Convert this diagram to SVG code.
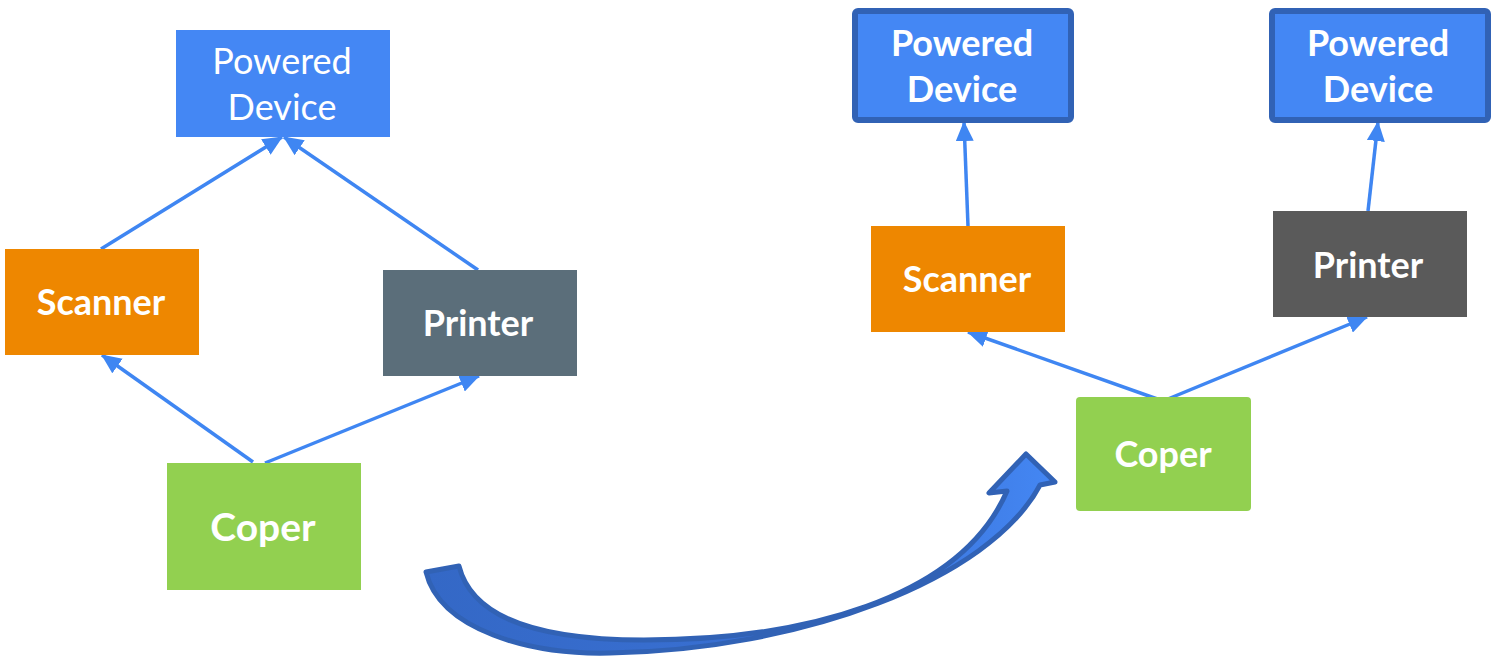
<svg xmlns="http://www.w3.org/2000/svg" width="1497" height="660" viewBox="0 0 1497 660">
<style>
.lbl{font-family:Lato,"Open Sans","Liberation Sans",sans-serif;fill:#fff;text-anchor:middle}
.b{font-weight:bold}
.edge{stroke:#3F86F2;stroke-width:3.5;fill:none;marker-end:url(#ah)}
</style>
<defs>
<marker id="ah" markerWidth="20" markerHeight="18" refX="19" refY="9" orient="auto" markerUnits="userSpaceOnUse">
<path d="M0,0 L20,9 L0,18 z" fill="#3F86F2"/>
</marker>
<linearGradient id="bg" x1="0" y1="0" x2="1" y2="0">
<stop offset="0" stop-color="#3468C6"/>
<stop offset="0.7" stop-color="#3A72D6"/>
<stop offset="1" stop-color="#4487F4"/>
</linearGradient>
</defs>
<rect width="1497" height="660" fill="#fff"/>
<g id="connectors">
<line class="edge" x1="101" y1="249" x2="282" y2="137"/>
<line class="edge" x1="478" y1="270" x2="284" y2="137"/>
<line class="edge" x1="253" y1="462" x2="102" y2="355"/>
<line class="edge" x1="265" y1="463" x2="479" y2="376"/>
<line class="edge" x1="968" y1="226" x2="964" y2="122"/>
<line class="edge" x1="1368" y1="211" x2="1378" y2="122"/>
<line class="edge" x1="1163" y1="401" x2="968" y2="332"/>
<line class="edge" x1="1163" y1="401" x2="1367" y2="317"/>
</g>
<g id="big-arrow">
<path d="M426,572 C440,630 530,655 610,653 C800,650 990,580 1040,485 L1055,482 L1026,454 L989,493 L1007,491 C960,600 800,640 644,640 C520,640 470,610 459,566 Z" fill="url(#bg)" stroke="#3162B5" stroke-width="5" stroke-linejoin="round"/>
</g>
<g id="pd-left">
<rect x="176" y="30" width="214" height="107" fill="#4487F4"/>
<text class="lbl" x="282" y="74" font-size="36">Powered</text>
<text class="lbl" x="282" y="120" font-size="36">Device</text>
</g>
<g id="scanner-left">
<rect x="5" y="249" width="194" height="106" fill="#EE8700"/>
<text class="lbl b" x="101" y="315" font-size="36">Scanner</text>
</g>
<g id="printer-left">
<rect x="383" y="270" width="194" height="106" fill="#5B6E7A"/>
<text class="lbl b" x="478" y="336" font-size="36">Printer</text>
</g>
<g id="coper-left">
<rect x="167" y="463" width="194" height="127" fill="#92D050"/>
<text class="lbl b" x="263" y="541" font-size="39">Coper</text>
</g>
<g id="pd-right-1">
<rect x="855" y="11" width="216" height="109" rx="3" fill="#4487F4" stroke="#3162B5" stroke-width="6"/>
<text class="lbl b" x="962" y="56" font-size="36">Powered</text>
<text class="lbl b" x="962" y="102" font-size="36">Device</text>
</g>
<g id="pd-right-2">
<rect x="1272" y="11" width="216" height="109" rx="3" fill="#4487F4" stroke="#3162B5" stroke-width="6"/>
<text class="lbl b" x="1378" y="56" font-size="36">Powered</text>
<text class="lbl b" x="1378" y="102" font-size="36">Device</text>
</g>
<g id="scanner-right">
<rect x="871" y="226" width="194" height="106" fill="#EE8700"/>
<text class="lbl b" x="967" y="292" font-size="36">Scanner</text>
</g>
<g id="printer-right">
<rect x="1273" y="211" width="194" height="106" fill="#5A5A5A"/>
<text class="lbl b" x="1368" y="278" font-size="36">Printer</text>
</g>
<g id="coper-right">
<rect x="1076" y="397" width="175" height="114" rx="4" fill="#92D050"/>
<text class="lbl b" x="1163" y="467" font-size="36">Coper</text>
</g>
</svg>
